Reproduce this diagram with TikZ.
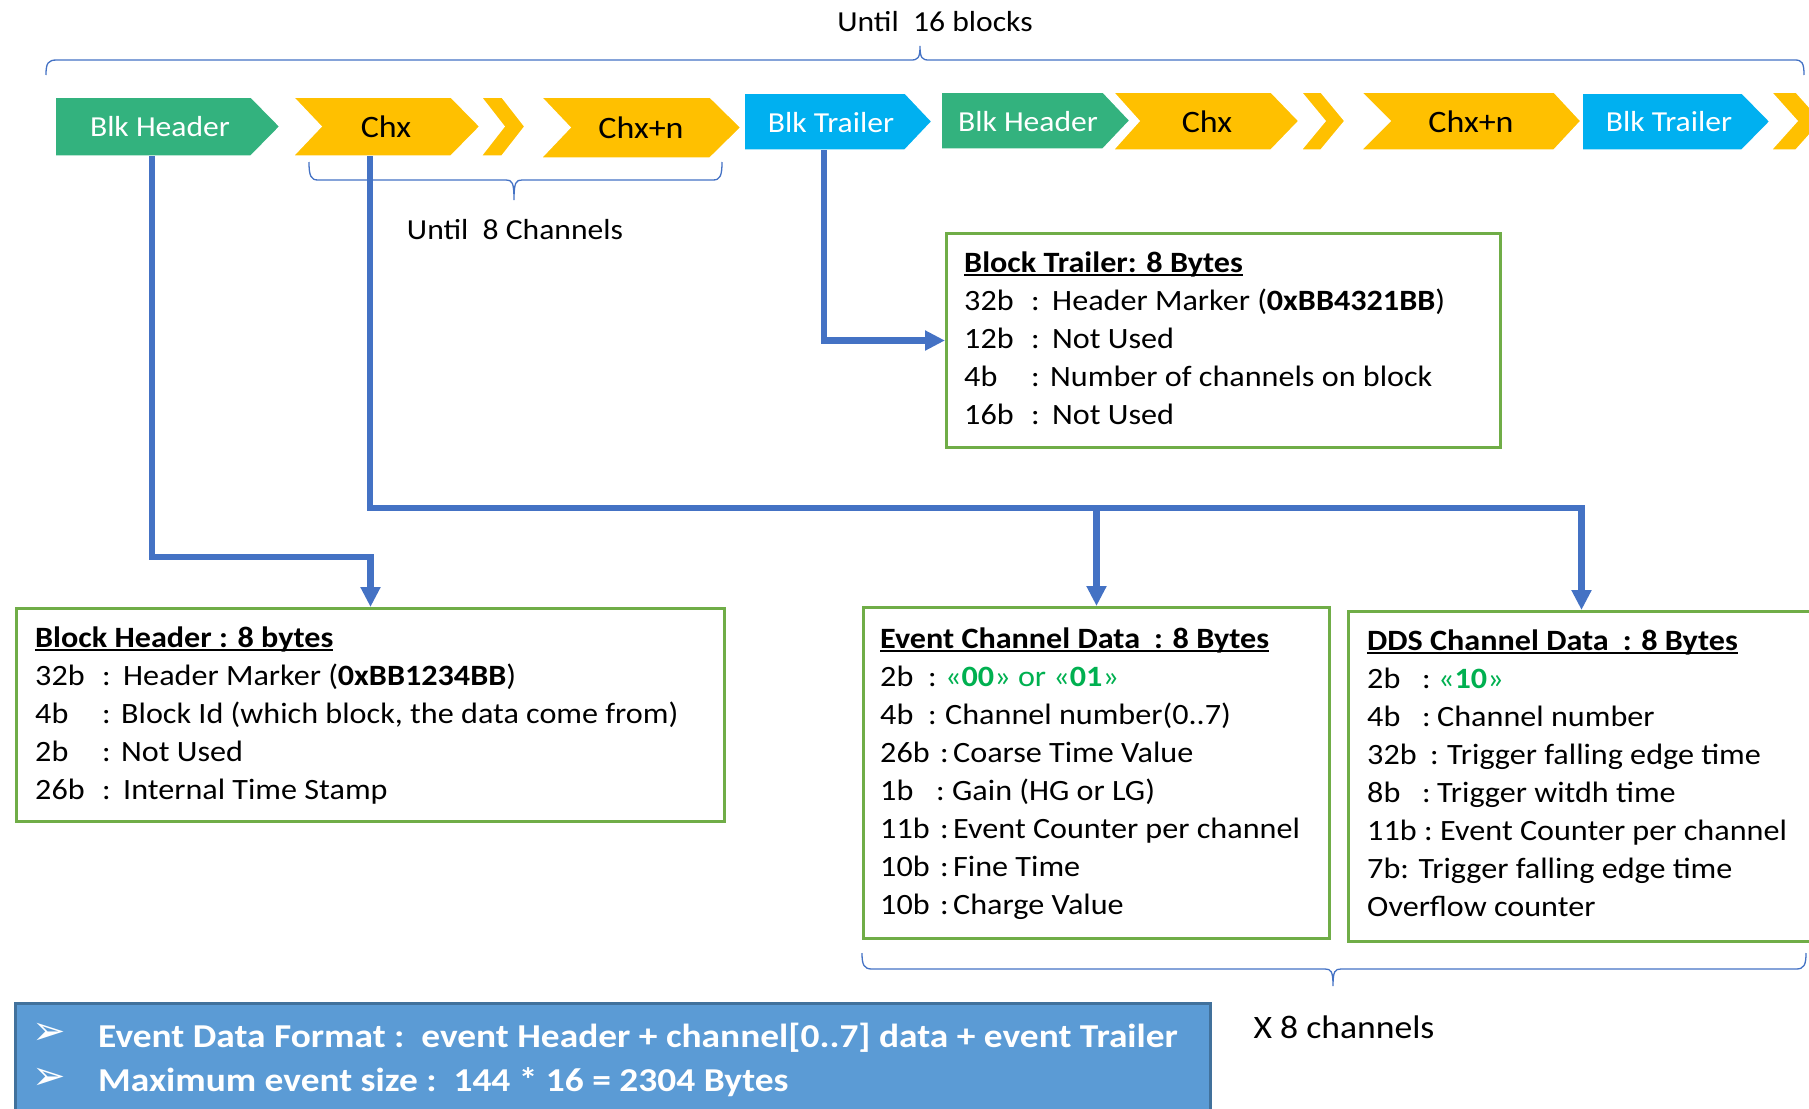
\documentclass[tikz,border=0pt]{standalone}
\usepackage{fontspec}
\setmainfont{Carlito}[FakeStretch=1.09]
\newfontfamily\bannerfont{Carlito}[FakeStretch=1.12]
\newfontfamily\symfont{DejaVu Sans}
\usetikzlibrary{arrows.meta}

\definecolor{hdrgreen}{HTML}{33B27E}
\definecolor{chyellow}{HTML}{FFC000}
\definecolor{trlcyan}{HTML}{00B0F0}
\definecolor{connblue}{HTML}{4472C4}
\definecolor{boxgreen}{HTML}{70AD47}
\definecolor{codegreen}{HTML}{00B050}
\definecolor{sumfill}{HTML}{5B9BD5}
\definecolor{sumedge}{HTML}{41719C}

% bold title with an underline just below the baseline
\newcommand\ulbf[1]{\setbox0\hbox{\bfseries #1}\rlap{\rule[-4pt]{\wd0}{2.2pt}}\box0}
% fixed-width field, used to line up the colons
\newcommand\fld[2]{\makebox[#1pt][l]{#2}}

\begin{document}
\begin{tikzpicture}[x=1pt,y=-1pt,
  shapeedge/.style={draw=white,line width=1.5pt},
  lbl/.style={font=\fontsize{29}{36}\selectfont,inner sep=0pt},
  chlbl/.style={font=\fontsize{31.2}{38}\selectfont,inner sep=0pt},
  note/.style={font=\fontsize{29}{36}\selectfont,inner sep=0pt},
  conn/.style={draw=connblue,line width=6.5pt,-{Triangle[width=19pt,length=20pt]}},
  brace/.style={draw=connblue,line width=1.3pt},
  databox/.style={draw=boxgreen,line width=3pt,inner sep=0pt,anchor=north west},
  txt/.style={font=\fontsize{29.5}{38}\selectfont,inner sep=0pt,anchor=base west},
  sumtxt/.style={font=\bannerfont\fontsize{33.4}{40}\selectfont\bfseries,text=white,inner sep=0pt,anchor=base west},
  bullet/.style={font=\symfont\fontsize{40}{44}\selectfont,text=white,inner sep=0pt}]

\useasboundingbox (0,0) rectangle (1809,1108);

% ---- stream of blocks: first block ----
\path[fill=hdrgreen,shapeedge] (55,97) -- (251,97) -- (280,126.5) -- (251,156) -- (55,156) -- cycle;
\path[fill=chyellow,shapeedge] (293,97) -- (451,97) -- (480,126.5) -- (451,156) -- (293,156) -- (321,126.5) -- cycle;
\path[fill=chyellow,shapeedge] (481,97) -- (502,97) -- (525,126.5) -- (502,156) -- (481,156) -- (504,126.5) -- cycle;
\path[fill=chyellow,shapeedge] (541,97) -- (710,97) -- (741,127.5) -- (710,158) -- (541,158) -- (570,127.5) -- cycle;
\path[fill=trlcyan,shapeedge] (744,93) -- (905,93) -- (932,121.5) -- (905,150) -- (744,150) -- cycle;

% ---- second block ----
\path[fill=hdrgreen,shapeedge] (941,92) -- (1103,92) -- (1130,120.5) -- (1103,149) -- (941,149) -- cycle;
\path[fill=chyellow,shapeedge] (1113,92) -- (1271,92) -- (1299,121) -- (1271,150) -- (1113,150) -- (1139,121) -- cycle;
\path[fill=chyellow,shapeedge] (1301,92) -- (1321,92) -- (1345,121) -- (1321,150) -- (1301,150) -- (1325,121) -- cycle;
\path[fill=chyellow,shapeedge] (1361,92) -- (1554,92) -- (1581,121) -- (1554,150) -- (1361,150) -- (1390,121) -- cycle;
\path[fill=trlcyan,shapeedge] (1582,93) -- (1742,93) -- (1770,121.5) -- (1742,150) -- (1582,150) -- cycle;
\path[fill=chyellow,shapeedge] (1771,92) -- (1796,92) -- (1822,121) -- (1796,150) -- (1771,150) -- (1797,121) -- cycle;

% labels on the stream
\node[lbl,text=white] (bh1) at (160,127) {Blk Header};
\node[chlbl] (chx1) at (386,127) {Chx};
\node[chlbl] (chn1) at (641,128) {Chx+n};
\node[lbl,text=white] (bt1) at (831,123) {Blk Trailer};
\node[lbl,text=white] (bh2) at (1028,122) {Blk Header};
\node[chlbl] (chx2) at (1207,122) {Chx};
\node[chlbl] (chn2) at (1471,122) {Chx+n};
\node[lbl,text=white] (bt2) at (1669,122) {Blk Trailer};

% ---- braces ----
\draw[brace] (46,75) .. controls (46,63) and (48,60) .. (57,60) -- (911,60)
  .. controls (918,60) and (920,58) .. (920,46) .. controls (920,58) and (922,60) .. (929,60)
  -- (1795,60) .. controls (1802,60) and (1804,63) .. (1804,75);
\node[note] (until16) at (935,22) {Until\ \ 16 blocks};

\draw[brace] (309,162) .. controls (309,176) and (311,180) .. (318,180) -- (506,180)
  .. controls (512,180) and (514,182) .. (514,200) .. controls (514,182) and (516,180) .. (522,180)
  -- (713,180) .. controls (720,180) and (722,176) .. (722,162);
\node[note] (until8) at (515,230) {Until\ \ 8 Channels};

\draw[brace] (862,953) .. controls (862,965) and (864,969) .. (872,969) -- (1325,969)
  .. controls (1331,969) and (1333,971) .. (1333,986) .. controls (1333,971) and (1335,969) .. (1341,969)
  -- (1796,969) .. controls (1804,969) and (1806,965) .. (1806,953);
\node[font=\fontsize{32.7}{40}\selectfont,inner sep=0pt] (x8) at (1344,1027) {X 8 channels};

% ---- description boxes ----
\node[databox,minimum width=554pt,minimum height=214pt] (btbox) at (945,232) {};
\node[databox,minimum width=708pt,minimum height=213pt] (bhbox) at (15,607) {};
\node[databox,minimum width=466pt,minimum height=331pt] (evbox) at (862,606) {};
\node[databox,minimum width=466pt,minimum height=330pt] (ddsbox) at (1347,610) {};

\node[txt] (bttext) at (964,272) {\begin{tabular}[t]{@{}l@{}}
\ulbf{Block Trailer: 8 Bytes}\\
\fld{67}{32b}\fld{21}{:}Header Marker (\textbf{0xBB4321BB})\\
\fld{67}{12b}\fld{21}{:}Not Used\\
\fld{67}{4b}\fld{19}{:}Number of channels on block\\
\fld{67}{16b}\fld{21}{:}Not Used
\end{tabular}};

\node[txt] (bhtext) at (35,647) {\begin{tabular}[t]{@{}l@{}}
\ulbf{Block Header : 8 bytes}\\
\fld{67}{32b}\fld{21}{:}Header Marker (\textbf{0xBB1234BB})\\
\fld{67}{4b}\fld{19}{:}Block Id (which block, the data come from)\\
\fld{67}{2b}\fld{19}{:}Not Used\\
\fld{67}{26b}\fld{21}{:}Internal Time Stamp
\end{tabular}};

\node[txt] (evtext) at (880,648) {\begin{tabular}[t]{@{}l@{}}
\ulbf{Event Channel Data\hspace{14pt}: 8 Bytes}\\
\fld{48}{2b}\fld{17}{:}{\color{codegreen}«\textbf{00}» or «\textbf{01}»}\\
\fld{48}{4b}\fld{17}{:}Channel number(0..7)\\
\fld{60}{26b}\fld{13}{:}Coarse Time Value\\
\fld{56}{1b}\fld{16}{:}Gain (HG or LG)\\
\fld{60}{11b}\fld{13}{:}Event Counter per channel\\
\fld{60}{10b}\fld{13}{:}Fine Time\\
\fld{60}{10b}\fld{13}{:}Charge Value
\end{tabular}};

\node[txt] (ddstext) at (1367,650) {\begin{tabular}[t]{@{}l@{}}
\ulbf{DDS Channel Data\hspace{14pt}: 8 Bytes}\\
\fld{55}{2b}\fld{16}{:}{\color{codegreen}«\textbf{10}»}\\
\fld{55}{4b}\fld{15}{:}Channel number\\
\fld{63}{32b}\fld{17}{:}Trigger falling edge time\\
\fld{55}{8b}\fld{15}{:}Trigger witdh time\\
\fld{57}{11b}\fld{16}{:}Event Counter per channel\\
7b: Trigger falling edge time\\
Overflow counter
\end{tabular}};

% ---- connectors from the stream to the boxes ----
\coordinate (bhfoot) at (152,156);
\coordinate (chxfoot) at (370,156);
\coordinate (btfoot) at (824,150);
\coordinate (chxbus) at (370,508);

\draw[conn] (bhfoot) -- (152,557) -| (bhbox.north);
\draw[conn] (chxfoot) -- (chxbus) -| (ddsbox.north);
\draw[conn] (evbox.north |- chxbus) -- (evbox.north);
\draw[conn] (btfoot) |- (btbox.west);

% ---- summary banner ----
\node[fill=sumfill,draw=sumedge,line width=2.5pt,anchor=north west,minimum width=1195pt,minimum height=130pt,inner sep=0pt] (sumbox) at (14,1002) {};
\node[bullet] (blt1) at (49,1034) {➢};
\node[bullet] (blt2) at (49,1079) {➢};
\node[sumtxt] (sum1) at (98,1047) {Event Data Format :\ \ event Header + channel[0..7] data + event Trailer};
\node[sumtxt] (sum2) at (98,1091) {Maximum event size :\ \ 144 * 16 = 2304 Bytes};

\end{tikzpicture}
\end{document}
